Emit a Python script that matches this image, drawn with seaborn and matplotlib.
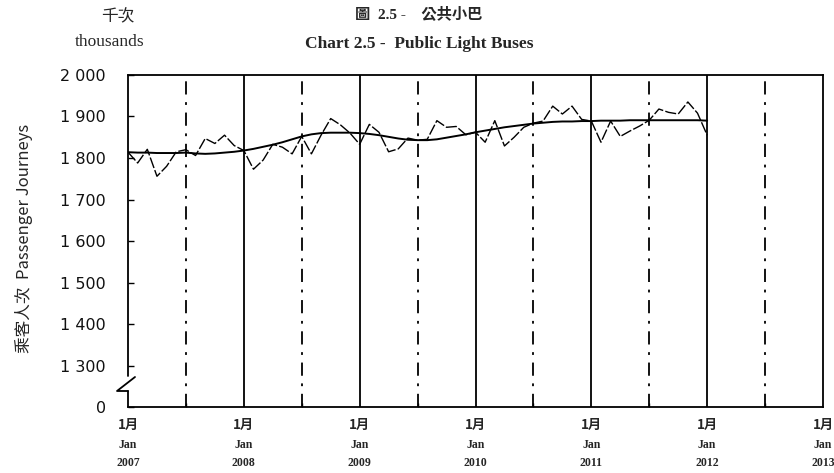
import numpy as np
import pandas as pd
import seaborn as sns
import matplotlib.pyplot as plt
from matplotlib.transforms import blended_transform_factory
from matplotlib.lines import Line2D

# ---- data (thousands of passenger journeys), monthly Jan 2007 .. Jan 2012 ----
raw = [
    1814, 1788, 1821, 1756, 1780, 1815, 1820, 1806, 1847, 1835, 1855, 1830,   # 2007
    1818, 1773, 1795, 1833, 1826, 1810, 1852, 1810, 1855, 1895, 1880, 1860,   # 2008
    1833, 1881, 1862, 1815, 1822, 1848, 1843, 1845, 1890, 1874, 1876, 1856,   # 2009
    1862, 1838, 1890, 1829, 1850, 1874, 1884, 1889, 1925, 1906, 1925, 1893,   # 2010
    1889, 1838, 1889, 1852, 1865, 1877, 1891, 1918, 1910, 1906, 1935, 1908,   # 2011
    1855,                                                                     # 2012
]
trend = [
    1814, 1813, 1813, 1812, 1812, 1812, 1813, 1811, 1810, 1811, 1813, 1815,
    1818, 1822, 1827, 1832, 1838, 1845, 1852, 1857, 1860, 1861, 1861, 1861,
    1860, 1858, 1855, 1851, 1847, 1844, 1843, 1843, 1845, 1849, 1853, 1857,
    1862, 1866, 1870, 1874, 1877, 1880, 1883, 1885, 1887, 1888, 1888, 1889,
    1889, 1890, 1890, 1890, 1891, 1891, 1891, 1891, 1891, 1891, 1891, 1891,
    1890,
]
years = ['2007', '2008', '2009', '2010', '2011', '2012', '2013']
ytick_values = [1200, 1300, 1400, 1500, 1600, 1700, 1800, 1900, 2000]
ytick_labels = ['0', '1 300', '1 400', '1 500', '1 600', '1 700', '1 800', '1 900', '2 000']

sns.set_theme(style='white')
plt.rcParams['font.family'] = ['DejaVu Sans', 'Noto Sans CJK TC']
plt.rcParams['lines.scale_dashes'] = False

fig = plt.figure(figsize=(8.34, 4.73), dpi=100)
ax = fig.add_axes([128 / 834, 1 - 407 / 473, 695 / 834, 332 / 473])

df = pd.DataFrame({'month': np.arange(len(raw)), 'raw': raw, 'trend': trend})
sns.lineplot(data=df, x='month', y='raw', ax=ax, color='black', lw=1.0,
             linestyle=(0, (8, 1.6)))
sns.lineplot(data=df, x='month', y='trend', ax=ax, color='black', lw=1.4)

# year separators (solid) and mid-year separators (dash-dot)
for i in range(1, len(years) - 1):
    ax.axvline(12 * i, color='black', lw=1.3, zorder=1)
for i in range(len(years) - 1):
    ax.axvline(12 * i + 6, color='black', lw=1.3, zorder=1,
               linestyle=(0, (9.5, 5.5, 2, 5.5)))

ax.set_xlim(0, 12 * (len(years) - 1))
ax.set_ylim(ytick_values[0], ytick_values[-1])
ax.set_xlabel('')
ax.set_ylabel('')

ax.set_yticks(ytick_values)
ax.set_yticklabels(ytick_labels, fontsize=11.5, color='#111111')
ax.tick_params(axis='y', direction='in', length=4, width=1, color='black',
               left=True, pad=16)
ax.set_xticks([12 * i for i in range(len(years))])
ax.set_xticklabels([])
ax.tick_params(axis='x', which='major', length=0)
ax.set_xticks([12 * i + 6 for i in range(len(years) - 1)], minor=True)
ax.tick_params(axis='x', which='minor', direction='in', length=3, width=1,
               bottom=True, color='black')

for s in ['top', 'right', 'bottom']:
    ax.spines[s].set_color('black')
    ax.spines[s].set_linewidth(1.3)
ax.spines['left'].set_visible(False)

# left axis with break mark
bt = ax.transAxes
top_break = (407 - 376) / 332
low_break = (407 - 391) / 332
xl = (117 - 128) / 695
xr = (135 - 128) / 695
for xs, ys in [([0, 0], [1, top_break]),
               ([xr, xl, 0], [top_break - 0.003, low_break, low_break]),
               ([0, 0], [low_break, 0])]:
    ax.add_line(Line2D(xs, ys, transform=bt, color='black', lw=1.3,
                       clip_on=False))

# x labels (three lines)
tr = blended_transform_factory(ax.transData, ax.transAxes)
for i, yr in enumerate(years):
    x = 12 * i
    ax.text(x, -0.055, '1月', transform=tr, ha='center', va='center',
            fontsize=9.5, family=['Noto Sans CJK TC', 'DejaVu Sans'],
            fontweight='bold', clip_on=False)
    ax.text(x, -0.113, 'Jan', transform=tr, ha='center', va='center',
            fontsize=8.5, family='Liberation Serif', fontweight='bold',
            clip_on=False)
    ax.text(x, -0.170, yr, transform=tr, ha='center', va='center',
            fontsize=8.5, family='Liberation Serif', fontweight='bold',
            clip_on=False)

# texts
fig.text(118 / 834, 1 - 17 / 473, '千次', ha='center', va='center',
         fontsize=12, family=['Noto Sans CJK TC', 'DejaVu Sans'])
fig.text(110 / 834, 1 - 42 / 473, 'thousands', ha='center', va='center',
         fontsize=12.5, family='Liberation Serif')
fig.text(419 / 834, 1 - 14 / 473, '圖  2.5 -    公共小巴', ha='center',
         va='center', fontsize=11, fontweight='bold',
         family=['Liberation Serif', 'Noto Sans CJK TC'])
fig.text(419 / 834, 1 - 44 / 473, 'Chart 2.5 -  Public Light Buses',
         ha='center', va='center', fontsize=12.5, fontweight='bold',
         family='Liberation Serif')
fig.text(24 / 834, 1 - 238 / 473, '乘客人次  Passenger Journeys',
         rotation=90, ha='center', va='center', fontsize=12,
         family=['Noto Sans CJK TC', 'DejaVu Sans'])

fig.savefig('out.png', dpi=100)
